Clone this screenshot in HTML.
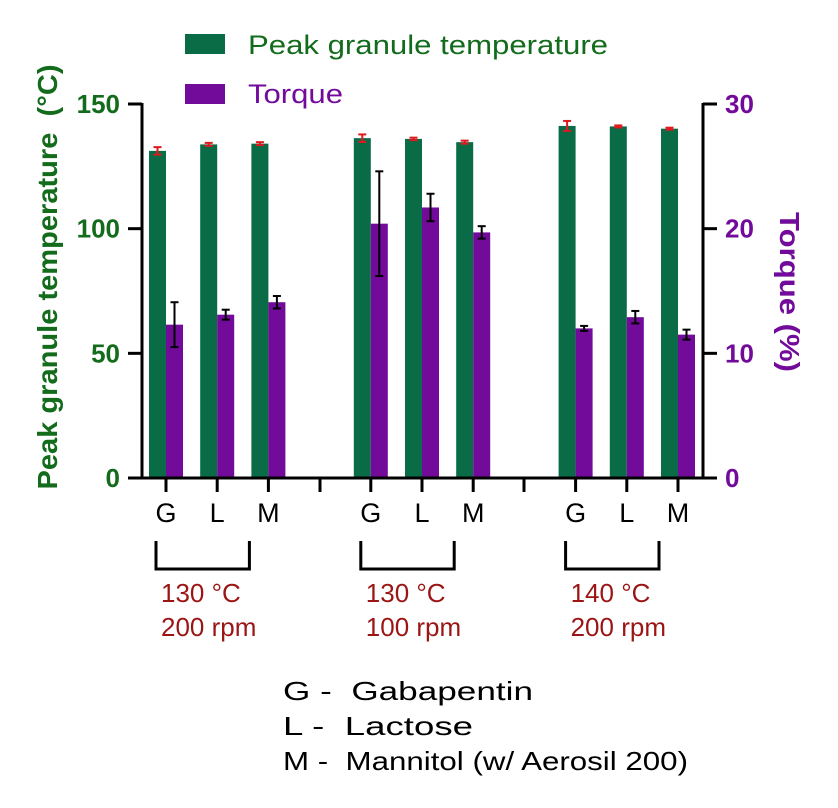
<!DOCTYPE html>
<html><head><meta charset="utf-8">
<style>
body{margin:0;background:#fff;}
svg text{font-family:"Liberation Sans",Arial,sans-serif;white-space:pre;}
</style></head>
<body>
<svg id="chart" width="838" height="803" viewBox="0 0 838 803" xmlns="http://www.w3.org/2000/svg">
<g id="legend">
 <rect x="185" y="34" width="40" height="20" fill="#0a6b47"/>
 <text x="248" y="54" font-size="27" textLength="360" lengthAdjust="spacingAndGlyphs" fill="#136b1c">Peak granule temperature</text>
 <rect x="185" y="84" width="40" height="20" fill="#720a9a"/>
 <text x="248" y="103" font-size="27" textLength="95" lengthAdjust="spacingAndGlyphs" fill="#720a9a">Torque</text>
</g>
<text transform="translate(57,277) rotate(-90)" text-anchor="middle" font-size="28" font-weight="bold" textLength="425" lengthAdjust="spacingAndGlyphs" fill="#136b1c">Peak granule temperature  (°C)</text>
<text transform="translate(780,292) rotate(90)" text-anchor="middle" font-size="28" font-weight="bold" textLength="160" lengthAdjust="spacingAndGlyphs" fill="#720a9a">Torque (%)</text>
<g id="bars"></g>
<g id="axes"></g>
<g id="notes"></g>
<g font-size="26" fill="#000">
 <text x="283" y="700" textLength="250" lengthAdjust="spacingAndGlyphs">G -  Gabapentin</text>
 <text x="283" y="735" textLength="190" lengthAdjust="spacingAndGlyphs">L -  Lactose</text>
 <text x="283" y="770" textLength="405" lengthAdjust="spacingAndGlyphs">M -  Mannitol (w/ Aerosil 200)</text>
</g>
</svg>
<script>
const categories=["G","L","M","G","L","M","G","L","M"];
const tempValues=[131.2,133.8,134.1,136.3,136.0,134.7,141.2,141.0,140.1];
const tempErrors=[1.5,0.6,0.6,1.5,0.5,0.6,2.0,0.4,0.4];
const torqueValues=[12.3,13.1,14.1,20.4,21.7,19.7,12.0,12.9,11.5];
const torqueErrors=[1.8,0.4,0.5,4.2,1.1,0.5,0.2,0.5,0.4];
const leftTicks=[0,50,100,150];
const rightTicks=[0,10,20,30];
const groupLabels=[["130 °C","200 rpm"],["130 °C","100 rpm"],["140 °C","200 rpm"]];

const NS="http://www.w3.org/2000/svg";
const X0=142,X1=703,Y0=478,YT=104;
const yL=v=>Y0-(v/150)*(Y0-YT);
const yR=v=>Y0-(v/30)*(Y0-YT);
const step=51.2;
const xc=i=>166+(i+Math.floor(i/3))*step;
function mk(tag,attrs,parent){const e=document.createElementNS(NS,tag);for(const k in attrs)e.setAttribute(k,attrs[k]);parent.appendChild(e);return e;}
const bars=document.getElementById('bars'),axes=document.getElementById('axes'),notes=document.getElementById('notes');
function errbar(x,yTop,yBot,color,parent,name){
 const g=mk('g',{stroke:color,'stroke-width':2},parent);
 
 
 mk('line',{x1:x,x2:x,y1:yTop,y2:yBot},g);
 mk('line',{x1:x-4,x2:x+4,y1:yTop,y2:yTop},g);
 mk('line',{x1:x-4,x2:x+4,y1:yBot,y2:yBot},g);
}
categories.forEach((c,i)=>{
 const x=xc(i);
 const t=tempValues[i],q=torqueValues[i];
 const r1=mk('rect',{x:x-17,y:yL(t),width:17,height:Y0-yL(t),fill:'#0a6b47'},bars);
 
 
 errbar(x-8.5,yL(t+tempErrors[i]),yL(t-tempErrors[i]),'#e0191e',bars,'error-temperature-'+(i+1));
 const r2=mk('rect',{x:x,y:yR(q),width:17,height:Y0-yR(q),fill:'#720a9a'},bars);
 
 
 errbar(x+8.5,yR(q+torqueErrors[i]),yR(q-torqueErrors[i]),'#000',bars,'error-torque-'+(i+1));
 mk('line',{x1:x,x2:x,y1:Y0,y2:Y0+14,stroke:'#000','stroke-width':3},axes);
 const tl=mk('text',{x:x,y:Y0+44,'text-anchor':'middle','font-size':27,fill:'#000'},axes);
 tl.textContent=c;
 
 
});
[320,524].forEach(x=>mk('line',{x1:x,x2:x,y1:Y0,y2:Y0+14,stroke:'#000','stroke-width':3},axes));
const xa=mk('line',{x1:X0-1,x2:X1+1,y1:Y0,y2:Y0,stroke:'#000','stroke-width':3},axes);


const la=mk('line',{x1:X0,x2:X0,y1:YT-1,y2:Y0,stroke:'#000','stroke-width':3},axes);


const ra=mk('line',{x1:X1,x2:X1,y1:YT-1,y2:Y0,stroke:'#000','stroke-width':3},axes);


leftTicks.forEach(v=>{
 mk('line',{x1:X0-14,x2:X0,y1:yL(v),y2:yL(v),stroke:'#000','stroke-width':3},axes);
 const t=mk('text',{x:X0-22,y:yL(v)+9,'text-anchor':'end','font-size':26,'font-weight':'bold',fill:'#136b1c'},axes);
 t.textContent=v;
 
 
});
rightTicks.forEach(v=>{
 mk('line',{x1:X1,x2:X1+14,y1:yR(v),y2:yR(v),stroke:'#000','stroke-width':3},axes);
 const t=mk('text',{x:X1+22,y:yR(v)+9,'text-anchor':'start','font-size':26,'font-weight':'bold',fill:'#720a9a'},axes);
 t.textContent=v;
 
 
});
groupLabels.forEach((lab,g)=>{
 const a=xc(g*3)-10,b=xc(g*3+2)-19;
 const p=mk('path',{d:`M${a} 541 V569 H${b} V541`,fill:'none',stroke:'#000','stroke-width':3},notes);
 
 
 lab.forEach((s,k)=>{
  const t=mk('text',{x:a+5,y:602+k*34,'font-size':26,fill:'#9b1515'},notes);
  t.textContent=s;
  
  
 });
});
</script>
</body></html>
